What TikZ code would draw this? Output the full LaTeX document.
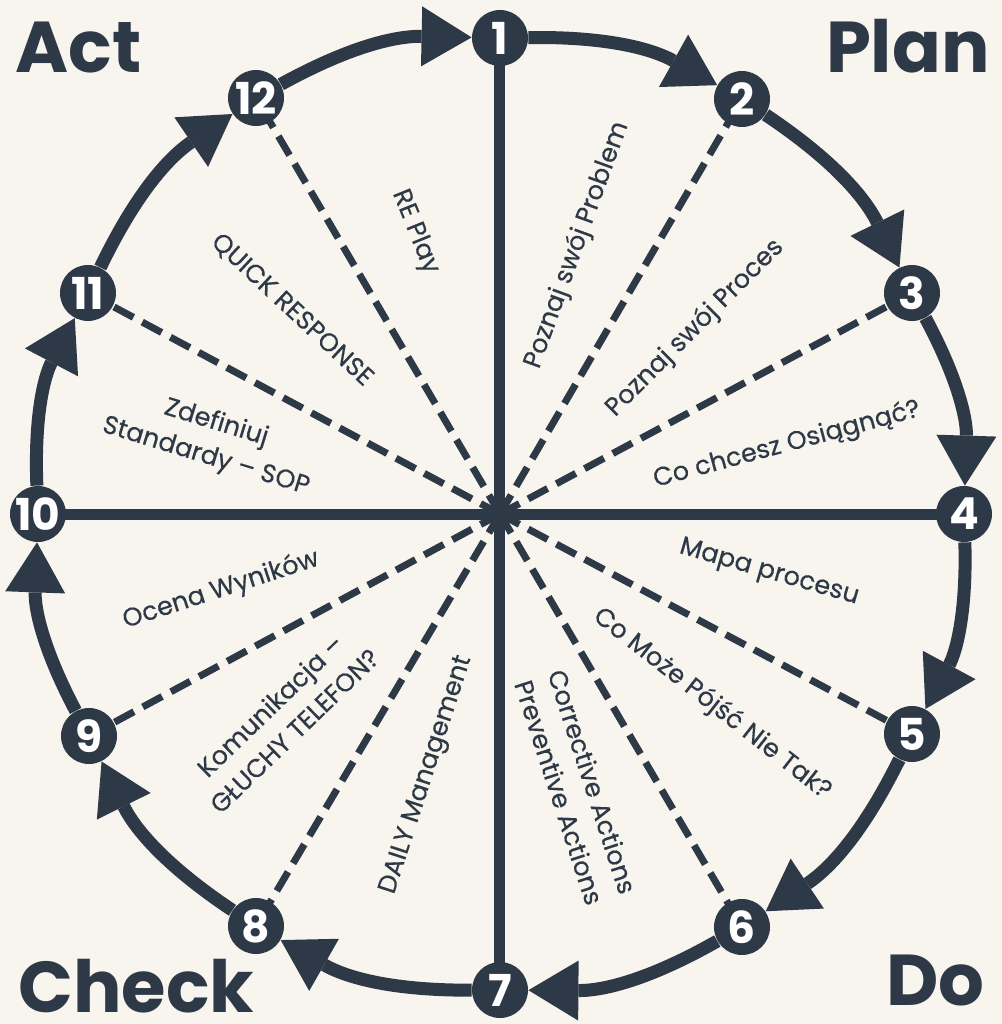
\documentclass[tikz,border=0pt]{standalone}
\usepackage{fontspec}
\setmainfont{Poppins}
\newfontfamily\labfont{Poppins}[FakeBold=0.4]
\usepackage{tikz}
\usetikzlibrary{arrows.meta}
\definecolor{slate}{RGB}{46,57,71}
\definecolor{paper}{HTML}{F8F4EE}
\tikzset {
  % numbered vertex on the circle
  main/.style = {circle, fill=slate, text=white, minimum size=28pt, inner sep=0pt,
    font=\bfseries\fontsize{22}{22}\selectfont},
  % arcs of the cycle
  cyc/.style={slate, line width=6.5pt, -{Triangle[length=25pt,width=30pt,line width=0pt]}},
  % solid axes and dashed spokes
  axis/.style={slate, line width=5.5pt},
  spoke/.style={slate, line width=3.5pt, dash pattern=on 11pt off 5pt},
  % sector texts and phase titles
  lab/.style={text=slate, align=center, inner sep=0pt, font=\labfont\fontsize{12.8}{17.5}\selectfont},
  phase/.style={text=slate, inner sep=0pt, text depth=0pt, font=\bfseries\fontsize{36}{36}\selectfont},
}

\begin{document}
\begin{tikzpicture}[x=0.5pt, y=0.5pt]
  \fill[paper] (-500,-510) rectangle (502,514);
  \useasboundingbox (-500,-510) rectangle (502,514);

  \coordinate (c) at (0,0);
  \foreach \i/\x/\y in {1/0/476, 2/242/415, 3/412/221, 4/464/0,
                        5/412/-220, 6/242/-413, 7/0/-476, 8/-244/-412,
                        9/-411/-222, 10/-462/0, 11/-412/221, 12/-244/416}
    \coordinate (p\i) at (\x,\y);

  % spokes
  \draw[axis] (p1) -- (p7);
  \draw[axis] (p10) -- (p4);
  \foreach \i in {2,3,5,6,8,9,11,12}
    \draw[spoke] (c) -- (p\i);

  % vertices
  \foreach \i in {1,...,12}
    \node[main] (\i) at (p\i) {\i};

  % the cycle
  \foreach \a/\b in {1/2,2/3,3/4,4/5,5/6,6/7,7/8,8/9,9/10,10/11,11/12,12/1}
    \draw[cyc] (\a) to[bend left=15] (\b);

  % sector texts
  \node[lab, rotate=70] (t1) at (77,269) {Poznaj swój Problem};
  \node[lab, rotate=45] (t2) at (195,186) {Poznaj swój Proces};
  \node[lab, rotate=15] (t3) at (287,69) {Co chcesz Osiągnąć?};
  \node[lab, rotate=-16] (t4) at (269,-59) {Mapa procesu};
  \node[lab, rotate=-38] (t5) at (212,-190) {Co Może Pójść Nie Tak?};
  \node[lab, rotate=-72] (t6) at (76,-273) {Corrective Actions\\Preventive Actions};
  \node[lab, rotate=72] (t7) at (-73,-261) {DAILY Management};
  \node[lab, rotate=44] (t8) at (-218,-204) {Komunikacja –\\GŁUCHY TELEFON?};
  \node[lab, rotate=18] (t9) at (-279,-76) {Ocena Wyników};
  \node[lab, rotate=-17] (t10) at (-289,74) {Zdefiniuj\\Standardy – SOP};
  \node[lab, rotate=-43] (t11) at (-208,204) {QUICK RESPONSE};
  \node[lab, rotate=-68] (t12) at (-85,282) {RE Play};

  % phases
  \node[phase, anchor=base west] (act) at (-485,442) {Act};
  \node[phase, anchor=base east] (plan) at (490,442) {Plan};
  \node[phase, anchor=base west] (check) at (-482,-498) {Check};
  \node[phase, anchor=base east] (do) at (485,-491) {Do};
\end{tikzpicture}
\end{document}
